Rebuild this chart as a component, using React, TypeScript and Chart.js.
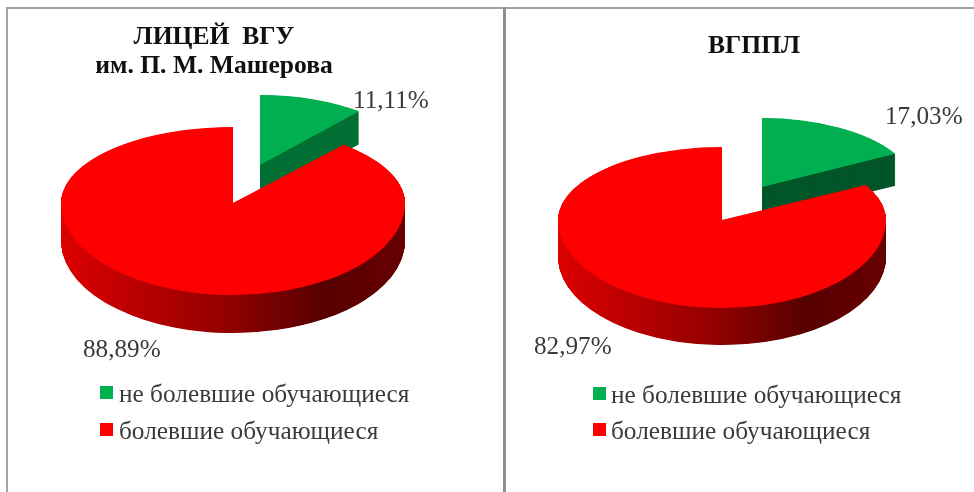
import React, { useEffect, useRef } from "react";
import { Chart, registerables } from "chart.js";

Chart.register(...registerables);

const categories = ["не болевшие обучающиеся", "болевшие обучающиеся"];
const lyceumValues = [11.11, 88.89];
const vocationalValues = [17.03, 82.97];
const lyceumTitle = ["ЛИЦЕЙ  ВГУ", "им. П. М. Машерова"];
const vocationalTitle = ["ВГППЛ"];
const sliceColors = ["#00B050", "#FF0000"];

const FONT = "'Liberation Serif', 'Times New Roman', serif";
const TEXT = "#3a3a3a";

type Panel = {
  left: number;
  width: number;
  title: string[];
  values: number[];
  titleX: number;
  titleTop: number;
  slices: { ax: number; ay: number; rx: number; up: number; down: number; depth: number }[];
  greenWall: string;
  labels: { x: number; y: number }[];
  legendX: number;
  legendTextX: number;
  legendY: number[];
};

const panels: Panel[] = [
  {
    left: 0,
    width: 504,
    title: lyceumTitle,
    values: lyceumValues,
    titleX: 214,
    titleTop: 23,
    slices: [
      { ax: 260, ay: 165, rx: 154, up: 70, down: 70, depth: 33 },
      { ax: 233, ay: 203, rx: 172, up: 76, down: 92, depth: 38 },
    ],
    greenWall: "#027035",
    labels: [
      { x: 353, y: 108 },
      { x: 83, y: 357 },
    ],
    legendX: 100,
    legendTextX: 119,
    legendY: [402, 439],
  },
  {
    left: 504,
    width: 470,
    title: vocationalTitle,
    values: vocationalValues,
    titleX: 754,
    titleTop: 32,
    slices: [
      { ax: 762, ay: 187, rx: 152, up: 69, down: 69, depth: 32 },
      { ax: 722, ay: 220, rx: 164, up: 73, down: 88, depth: 37 },
    ],
    greenWall: "#00562a",
    labels: [
      { x: 885, y: 124 },
      { x: 534, y: 354 },
    ],
    legendX: 593,
    legendTextX: 611,
    legendY: [403, 439],
  },
];

function panelPlugin(p: Panel) {
  return {
    id: "panel3d",
    afterLayout(chart: any) {
      const t = chart.titleBlock;
      const half = 200;
      t.left = p.titleX - p.left - half;
      t.right = p.titleX - p.left + half;
      t.top = p.titleTop;
    },
    beforeDatasetsDraw(chart: any) {
      const ctx: CanvasRenderingContext2D = chart.ctx;
      const meta = chart.getDatasetMeta(0);
      const paint = (el: any, s: Panel["slices"][0], dy: number, fill: any) => {
        const R = el.outerRadius;
        const ax = s.ax - p.left;
        const ay = s.ay + dy;
        const saved = el.options;
        el.options = { ...saved, backgroundColor: fill };
        [
          { ky: s.up / R, y: -10, h: ay + 0.4 + 10 },
          { ky: s.down / R, y: ay - 0.4, h: 1000 },
        ].forEach((part) => {
          ctx.save();
          ctx.beginPath();
          ctx.rect(-10, part.y, 2000, part.h);
          ctx.clip();
          ctx.translate(ax, ay);
          ctx.scale(s.rx / R, part.ky);
          ctx.translate(-el.x, -el.y);
          el.draw(ctx);
          ctx.restore();
        });
        el.options = saved;
      };
      meta.data.forEach((el: any, i: number) => {
        const s = p.slices[i];
        const R = el.outerRadius;
        let wall: any = p.greenWall;
        if (i === 1) {
          const g = ctx.createLinearGradient(el.x - R, 0, el.x + R, 0);
          g.addColorStop(0, "#dc0000");
          g.addColorStop(0.5, "#8f0000");
          g.addColorStop(0.76, "#560000");
          g.addColorStop(1, "#680000");
          wall = g;
        }
        for (let d = s.depth; d > 0; d -= 0.5) paint(el, s, d, wall);
        paint(el, s, 0, sliceColors[i]);
      });
      return false;
    },
    afterDraw(chart: any) {
      const ctx: CanvasRenderingContext2D = chart.ctx;
      const values: number[] = chart.data.datasets[0].data;
      ctx.save();
      ctx.textBaseline = "alphabetic";
      ctx.textAlign = "left";
      ctx.fillStyle = TEXT;
      ctx.font = `25.2px ${FONT}`;
      values.forEach((v, i) => {
        const text = `${v.toFixed(2).replace(".", ",")}%`;
        ctx.fillText(text, p.labels[i].x - p.left, p.labels[i].y);
      });
      ctx.font = `25.3px ${FONT}`;
      (chart.data.labels as string[]).forEach((label, i) => {
        const base = p.legendY[i];
        ctx.fillStyle = sliceColors[i];
        ctx.fillRect(p.legendX - p.left, base - 16, 13, 13);
        ctx.fillStyle = TEXT;
        ctx.fillText(label, p.legendTextX - p.left, base);
      });
      ctx.restore();
    },
  };
}

function PieCanvas({ panel }: { panel: Panel }) {
  const ref = useRef<HTMLCanvasElement>(null);
  useEffect(() => {
    const chart = new Chart(ref.current as HTMLCanvasElement, {
      type: "pie",
      data: {
        labels: categories,
        datasets: [{ data: panel.values, backgroundColor: sliceColors, borderWidth: 0 }],
      },
      options: {
        responsive: false,
        animation: false,
        rotation: 0,
        layout: { padding: 0 },
        plugins: {
          legend: { display: false },
          tooltip: { enabled: false },
          title: {
            display: true,
            text: panel.title,
            color: "#111111",
            padding: 0,
            font: { family: FONT, size: 25.6, weight: "bold", lineHeight: 1.13 },
          },
        },
      },
      plugins: [panelPlugin(panel)],
    } as any);
    return () => chart.destroy();
  }, [panel]);
  return (
    <canvas
      ref={ref}
      width={panel.width}
      height={492}
      style={{
        position: "absolute",
        left: panel.left,
        top: 0,
        width: panel.width,
        height: 492,
        filter: "blur(0.45px)",
      }}
    />
  );
}

export default function App() {
  const line = "#a3a3a3";
  return (
    <div style={{ position: "absolute", left: 0, top: 0, width: 974, height: 492, overflow: "hidden", background: "#fff" }}>
      {panels.map((p) => (
        <PieCanvas key={p.left} panel={p} />
      ))}
      <div style={{ position: "absolute", left: 6, top: 7, width: 968, height: 2, background: line }} />
      <div style={{ position: "absolute", left: 6, top: 7, width: 2, height: 485, background: line }} />
      <div style={{ position: "absolute", left: 503, top: 7, width: 3, height: 485, background: "#8f8f8f" }} />
    </div>
  );
}
